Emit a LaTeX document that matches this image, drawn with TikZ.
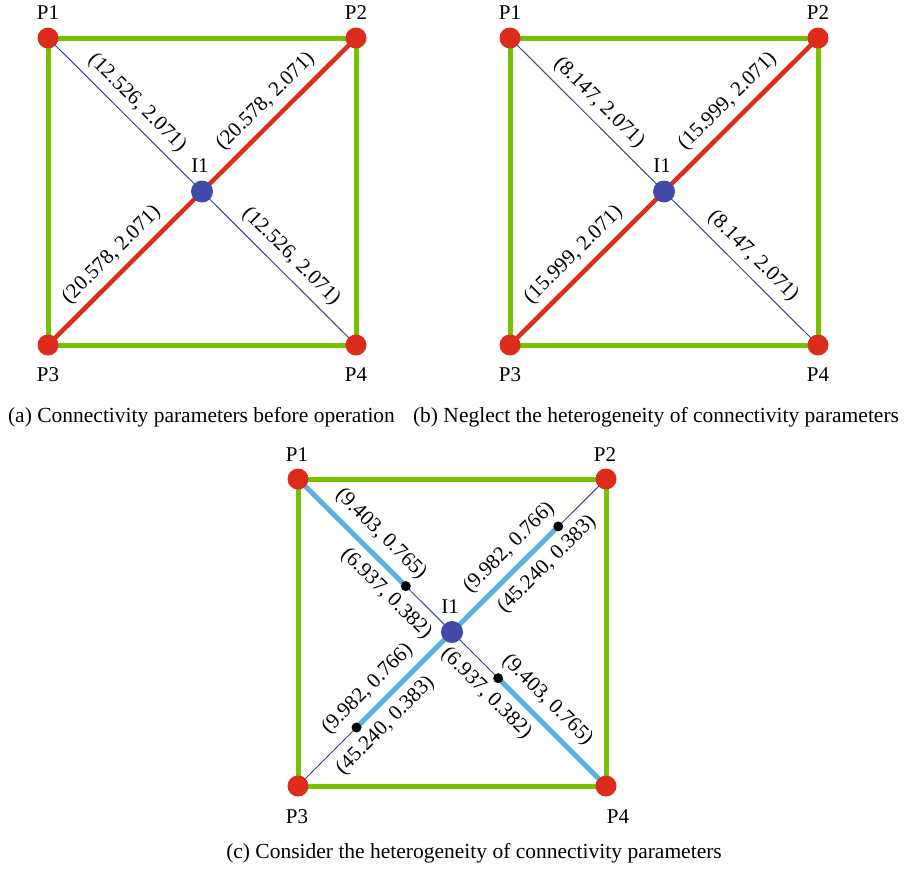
\documentclass[tikz,border=0pt]{standalone}
\usepackage{fontspec}
\setmainfont{Liberation Serif}
\usetikzlibrary{calc,backgrounds}
\definecolor{ptred}{RGB}{220,44,28}
\definecolor{ptgreen}{RGB}{118,194,0}
\definecolor{ptblue}{RGB}{66,74,168}
\definecolor{ptnavy}{RGB}{58,64,160}
\definecolor{ptsky}{RGB}{91,178,222}
\tikzset{
  sqline/.style={line width=5pt, draw=ptgreen},
  hotline/.style={line width=4.5pt, draw=ptred},
  thinline/.style={line width=1pt, draw=ptnavy},
  coolline/.style={line width=5pt, draw=ptsky},
  pnode/.style={circle, fill=ptred, minimum size=21pt, inner sep=0pt},
  inode/.style={circle, fill=ptblue, minimum size=22pt, inner sep=0pt},
  dnode/.style={circle, fill=black, minimum size=10pt, inner sep=0pt},
  lab/.style={font=\fontsize{21}{24}\selectfont, inner sep=0pt},
  val/.style={font=\fontsize{21}{24}\selectfont, sloped, inner sep=7pt},
  cval/.style={val, inner sep=9.5pt},
  captext/.style={font=\fontsize{21.5}{24}\selectfont, inner sep=0pt, anchor=base},
}
\newcommand\mypanel[4]{%
  \begin{scope}[xshift=#2pt]
    \node[pnode] (#1p1) at (48,38) {};
    \node[pnode] (#1p2) at (356,38) {};
    \node[pnode] (#1p3) at (48,345) {};
    \node[pnode] (#1p4) at (356,345) {};
    \node[inode] (#1i) at (202,191.5) {};
    \node[lab] (#1t1) at (48,13) {P1};
    \node[lab] (#1t2) at (356,13) {P2};
    \node[lab] (#1t3) at (48,375) {P3};
    \node[lab] (#1t4) at (356,375) {P4};
    \node[lab] (#1ti) at (200,166) {I1};
    \begin{scope}[on background layer]
      \draw[sqline] (#1p1.center) -- (#1p2.center) -- (#1p4.center) -- (#1p3.center) -- cycle;
      \draw[thinline] (#1p1.center) -- node[val, above] {#3} (#1i.center)
                      -- node[val, above] {#3} (#1p4.center);
      \draw[hotline] (#1p3.center) -- node[val, above] {#4} (#1i.center)
                      -- node[val, above] {#4} (#1p2.center);
    \end{scope}
  \end{scope}}
\begin{document}
\begin{tikzpicture}[x=1pt,y=-1pt]
  \useasboundingbox (0,0) rectangle (910,873);
  \mypanel{a}{0}{(12.526, 2.071)}{(20.578, 2.071)}
  \mypanel{b}{462}{(8.147, 2.071)}{(15.999, 2.071)}
  \node[captext] (capa) at (201.5,422) {(a) Connectivity parameters before operation};
  \node[captext] (capb) at (656,422) {(b) Neglect the heterogeneity of connectivity parameters};
  % panel (c)
  \node[pnode] (cp1) at (298,479) {};
  \node[pnode] (cp2) at (606,479) {};
  \node[pnode] (cp3) at (298,786) {};
  \node[pnode] (cp4) at (606,786) {};
  \node[inode] (ci) at (452,632) {};
  \node[dnode] (cd1) at ($(ci.center)!0.30!(cp1.center)$) {};
  \node[dnode] (cd2) at ($(ci.center)!0.69!(cp2.center)$) {};
  \node[dnode] (cd3) at ($(ci.center)!0.62!(cp3.center)$) {};
  \node[dnode] (cd4) at ($(ci.center)!0.30!(cp4.center)$) {};
  \node[lab] (ct1) at (297,455) {P1};
  \node[lab] (ct2) at (605,455) {P2};
  \node[lab] (ct3) at (297,817) {P3};
  \node[lab] (ct4) at (618,817) {P4};
  \node[lab] (cti) at (450,607) {I1};
  \begin{scope}[on background layer]
    \draw[sqline] (cp1.center) -- (cp2.center) -- (cp4.center) -- (cp3.center) -- cycle;
    \draw[coolline] (cp1.center) -- (cd1.center);
    \draw[thinline] (cd1.center) -- (ci.center);
    \draw[coolline] (ci.center) -- (cd2.center);
    \draw[thinline] (cd2.center) -- (cp2.center);
    \draw[coolline] (ci.center) -- (cd3.center);
    \draw[thinline] (cd3.center) -- (cp3.center);
    \draw[thinline] (ci.center) -- (cd4.center);
    \draw[coolline] (cd4.center) -- (cp4.center);
  \end{scope}
  \path (cp1.center) -- node[cval, above, pos=0.45] {(9.403, 0.765)}
                        node[cval, below, pos=0.66] {(6.937, 0.382)} (ci.center);
  \path (ci.center) -- node[cval, above, pos=0.46] {(9.982, 0.766)}
                       node[cval, below, pos=0.53] {(45.240, 0.383)} (cp2.center);
  \path (cp3.center) -- node[cval, above, pos=0.54] {(9.982, 0.766)}
                        node[cval, below, pos=0.48] {(45.240, 0.383)} (ci.center);
  \path (ci.center) -- node[cval, below, pos=0.31] {(6.937, 0.382)}
                       node[cval, above, pos=0.53] {(9.403, 0.765)} (cp4.center);
  \node[captext] (capc) at (474,858) {(c) Consider the heterogeneity of connectivity parameters};
\end{tikzpicture}
\end{document}
